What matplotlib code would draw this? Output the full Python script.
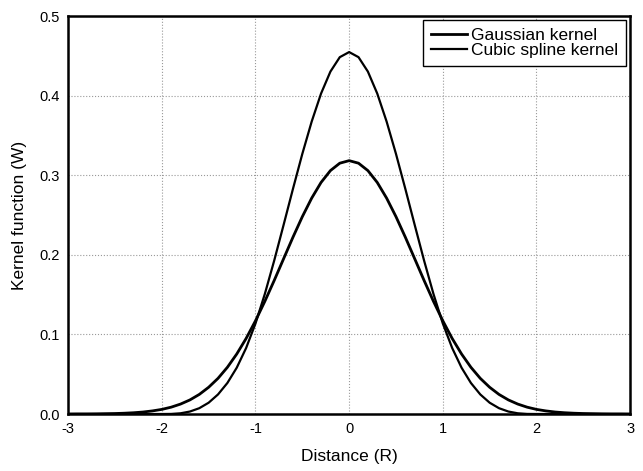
import matplotlib
matplotlib.use('Agg')
import matplotlib.pyplot as plt

plt.rcParams['font.family'] = ['Liberation Sans', 'DejaVu Sans']

# distance samples, -3 .. 3 step 0.1
distance = [-3.0, -2.9, -2.8, -2.7, -2.6, -2.5, -2.4, -2.3, -2.2, -2.1,
            -2.0, -1.9, -1.8, -1.7, -1.6, -1.5, -1.4, -1.3, -1.2, -1.1,
            -1.0, -0.9, -0.8, -0.7, -0.6, -0.5, -0.4, -0.3, -0.2, -0.1,
            0.0, 0.1, 0.2, 0.3, 0.4, 0.5, 0.6, 0.7, 0.8, 0.9,
            1.0, 1.1, 1.2, 1.3, 1.4, 1.5, 1.6, 1.7, 1.8, 1.9,
            2.0, 2.1, 2.2, 2.3, 2.4, 2.5, 2.6, 2.7, 2.8, 2.9, 3.0]

gaussian = [0.0000, 0.0001, 0.0001, 0.0002, 0.0004, 0.0006, 0.0010, 0.0016, 0.0025, 0.0039,
            0.0058, 0.0086, 0.0125, 0.0177, 0.0246, 0.0336, 0.0448, 0.0587, 0.0754, 0.0949,
            0.1171, 0.1416, 0.1678, 0.1950, 0.2221, 0.2479, 0.2712, 0.2909, 0.3058, 0.3151,
            0.3183, 0.3151, 0.3058, 0.2909, 0.2712, 0.2479, 0.2221, 0.1950, 0.1678, 0.1416,
            0.1171, 0.0949, 0.0754, 0.0587, 0.0448, 0.0336, 0.0246, 0.0177, 0.0125, 0.0086,
            0.0058, 0.0039, 0.0025, 0.0016, 0.0010, 0.0006, 0.0004, 0.0002, 0.0001, 0.0001, 0.0000]

cubic = [0.0, 0.0, 0.0, 0.0, 0.0, 0.0, 0.0, 0.0, 0.0, 0.0,
         0.0, 0.0001, 0.0009, 0.0031, 0.0073, 0.0142, 0.0246, 0.0390, 0.0582, 0.0829,
         0.1137, 0.1509, 0.1928, 0.2375, 0.2828, 0.3268, 0.3674, 0.4026, 0.4302, 0.4483,
         0.4547, 0.4483, 0.4302, 0.4026, 0.3674, 0.3268, 0.2828, 0.2375, 0.1928, 0.1509,
         0.1137, 0.0829, 0.0582, 0.0390, 0.0246, 0.0142, 0.0073, 0.0031, 0.0009, 0.0001,
         0.0, 0.0, 0.0, 0.0, 0.0, 0.0, 0.0, 0.0, 0.0, 0.0, 0.0]

x_ticks = [-3, -2, -1, 0, 1, 2, 3]
y_ticks = [0.0, 0.1, 0.2, 0.3, 0.4, 0.5]

fig = plt.figure(figsize=(6.43, 4.71), dpi=100)
ax = fig.add_axes([0.106, 0.121, 0.874, 0.845])

ax.plot(distance, gaussian, color='black', lw=2.0, label='Gaussian kernel')
ax.plot(distance, cubic, color='black', lw=1.6, label='Cubic spline kernel')

ax.set_xlim(-3, 3)
ax.set_ylim(0, 0.5)
ax.set_xticks(x_ticks)
ax.set_xticklabels([str(t) for t in x_ticks])
ax.set_yticks(y_ticks)
ax.set_yticklabels(['%.1f' % t for t in y_ticks])
ax.tick_params(length=0, labelsize=10.5, pad=6)
ax.grid(True, color='#999999', linestyle=':', lw=0.8)

for s in ax.spines.values():
    s.set_linewidth(1.8)
    s.set_color('black')

ax.set_xlabel('Distance (R)', fontsize=12.5, labelpad=9)
ax.set_ylabel('Kernel function (W)', fontsize=12.5, labelpad=9)

leg = ax.legend(loc='upper right', fontsize=12.5, handlelength=2.1,
                fancybox=False, framealpha=1, edgecolor='black',
                borderaxespad=0.25, handletextpad=0.2, labelspacing=0.0,
                borderpad=0.45)
leg.get_frame().set_linewidth(1.0)

fig.savefig('out.png', dpi=100)
